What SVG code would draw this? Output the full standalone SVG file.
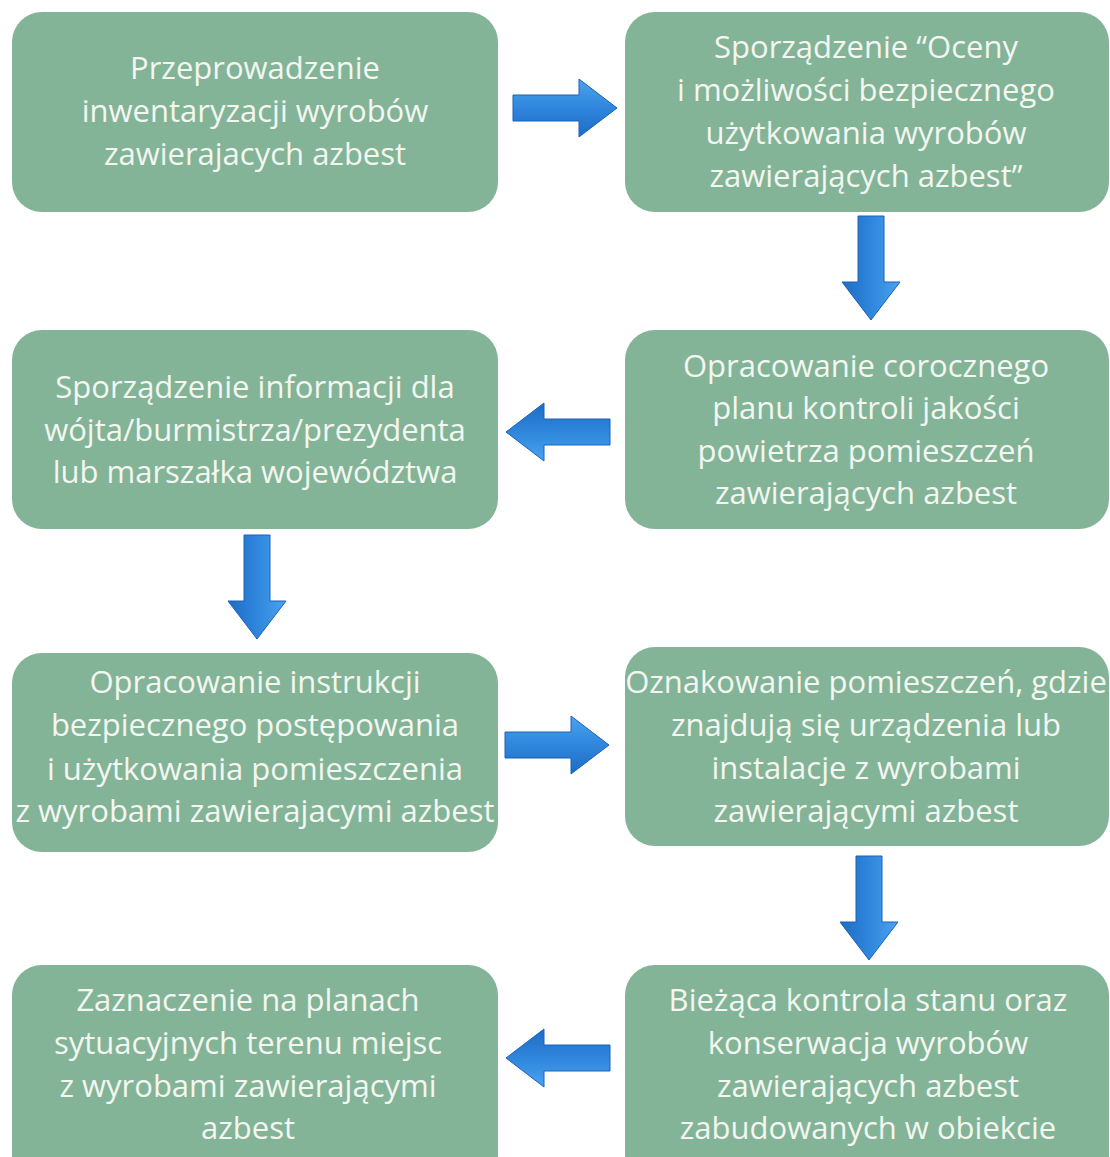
<svg xmlns="http://www.w3.org/2000/svg" width="1110" height="1157" viewBox="0 0 1110 1157">
<style>
.box{fill:#83b497;}
.t{font-family:"Open Sans","Noto Sans",sans-serif;font-size:31px;fill:#f3f6f1;text-anchor:middle;}
</style>
<defs>
<linearGradient id="g" x1="0" y1="0" x2="0" y2="1">
<stop offset="0" stop-color="#4aa3ef"/>
<stop offset="0.5" stop-color="#2f86dc"/>
<stop offset="1" stop-color="#1f6cc4"/>
</linearGradient>
<path id="arr" d="M-52,-13 L14,-13 L14,-29 L52,0 L14,29 L14,13 L-52,13 Z" fill="url(#g)" stroke="#1b63b8" stroke-width="1"/>
</defs>
<rect width="1110" height="1157" fill="#ffffff"/>
<g id="connectors">
<use href="#arr" transform="translate(565,108)"/>
<use href="#arr" transform="translate(871,268) rotate(90)"/>
<use href="#arr" transform="translate(558,432) rotate(180)"/>
<use href="#arr" transform="translate(257,587) rotate(90)"/>
<use href="#arr" transform="translate(557,745)"/>
<use href="#arr" transform="translate(869,908) rotate(90)"/>
<use href="#arr" transform="translate(558,1058) rotate(180)"/>
</g>
<g id="n1"><rect class="box" x="12" y="12" width="486" height="200" rx="30"/>
<text class="t" x="255"><tspan x="255" y="79">Przeprowadzenie</tspan><tspan x="255" y="122">inwentaryzacji wyrobów</tspan><tspan x="255" y="165">zawierajacych azbest</tspan></text></g>
<g id="n2"><rect class="box" x="625" y="12" width="484" height="200" rx="30"/>
<text class="t" x="866"><tspan x="866" y="58">Sporządzenie “Oceny</tspan><tspan x="866" y="101">i możliwości bezpiecznego</tspan><tspan x="866" y="144">użytkowania wyrobów</tspan><tspan x="866" y="187">zawierających azbest”</tspan></text></g>
<g id="n3"><rect class="box" x="12" y="330" width="486" height="199" rx="30"/>
<text class="t" x="255"><tspan x="255" y="398">Sporządzenie informacji dla</tspan><tspan x="255" y="441">wójta/burmistrza/prezydenta</tspan><tspan x="255" y="483">lub marszałka województwa</tspan></text></g>
<g id="n4"><rect class="box" x="625" y="330" width="484" height="199" rx="30"/>
<text class="t" x="866"><tspan x="866" y="377">Opracowanie corocznego</tspan><tspan x="866" y="419">planu kontroli jakości</tspan><tspan x="866" y="462">powietrza pomieszczeń</tspan><tspan x="866" y="504">zawierających azbest</tspan></text></g>
<g id="n5"><rect class="box" x="12" y="653" width="486" height="199" rx="30"/>
<text class="t" x="255"><tspan x="255" y="693">Opracowanie instrukcji</tspan><tspan x="255" y="736">bezpiecznego postępowania</tspan><tspan x="255" y="780">i użytkowania pomieszczenia</tspan><tspan x="255" y="822">z wyrobami zawierajacymi azbest</tspan></text></g>
<g id="n6"><rect class="box" x="625" y="647" width="484" height="199" rx="30"/>
<text class="t" x="866"><tspan x="866" y="693">Oznakowanie pomieszczeń, gdzie</tspan><tspan x="866" y="736">znajdują się urządzenia lub</tspan><tspan x="866" y="779">instalacje z wyrobami</tspan><tspan x="866" y="822">zawierającymi azbest</tspan></text></g>
<g id="n7"><rect class="box" x="12" y="965" width="486" height="220" rx="30"/>
<text class="t" x="248"><tspan x="248" y="1011">Zaznaczenie na planach</tspan><tspan x="248" y="1054">sytuacyjnych terenu miejsc</tspan><tspan x="248" y="1097">z wyrobami zawierającymi</tspan><tspan x="248" y="1139">azbest</tspan></text></g>
<g id="n8"><rect class="box" x="625" y="965" width="484" height="220" rx="30"/>
<text class="t" x="868"><tspan x="868" y="1011">Bieżąca kontrola stanu oraz</tspan><tspan x="868" y="1054">konserwacja wyrobów</tspan><tspan x="868" y="1097">zawierających azbest</tspan><tspan x="868" y="1139">zabudowanych w obiekcie</tspan></text></g>
</svg>
